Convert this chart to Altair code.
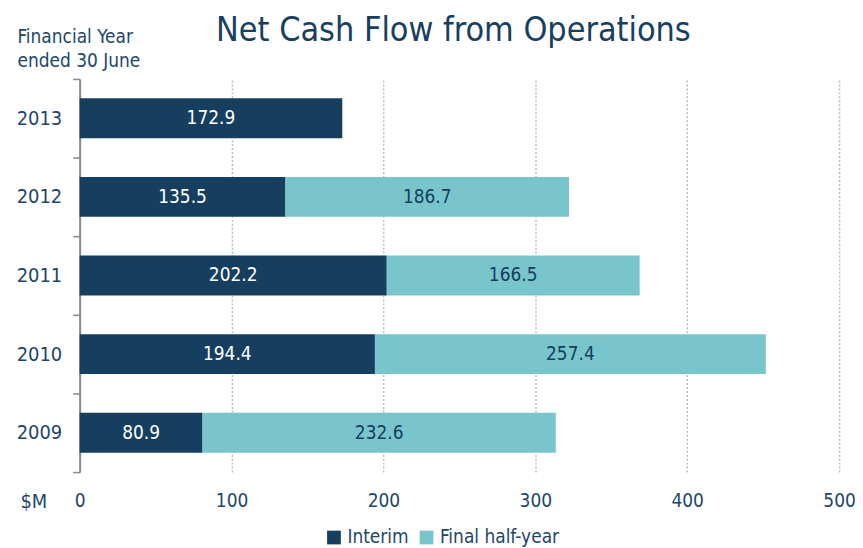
import altair as alt
import pandas as pd

years = ["2013", "2012", "2011", "2010", "2009"]
interim = [172.9, 135.5, 202.2, 194.4, 80.9]
final_half = [None, 186.7, 166.5, 257.4, 232.6]
series_names = ["Interim", "Final half-year"]
x_ticks = [0, 100, 200, 300, 400, 500]

rows = []
for y, a, b in zip(years, interim, final_half):
    rows.append({"year": y, "series": "Interim", "value": a, "ord": 0})
    if b is not None:
        rows.append({"year": y, "series": "Final half-year", "value": b, "ord": 1})
df = pd.DataFrame(rows)

NAVY = "#163e5e"
TEAL = "#78c6cc"
TXT = "#1d4668"
FONT = "DejaVu Sans Condensed, Roboto Condensed, Roboto, sans-serif"

base = alt.Chart(df).transform_stack(
    stack="value", groupby=["year"], as_=["start", "end"],
    sort=[alt.SortField("ord", order="ascending")]
).transform_calculate(mid="(datum.start + datum.end) / 2")

yenc = alt.Y(
    "year:N", sort=years,
    scale=alt.Scale(paddingInner=0, paddingOuter=0),
    axis=alt.Axis(
        title=["Financial Year", "ended 30 June"],
        titleAngle=0, titleAlign="left", titleBaseline="alphabetic",
        titleX=-63, titleY=-37, titleFontSize=19, titleFont=FONT,
        titleFontWeight="normal", titleColor=TXT, titleLineHeight=25,
        labelFontSize=20, labelFont=FONT, labelColor=TXT, labelPadding=11,
        tickBand="extent", tickSize=7, tickColor="#8a8a8a", tickWidth=1.5,
        domainColor="#8a8a8a", domainWidth=2, grid=False,
    ),
)

bars = base.mark_bar(size=40).encode(
    y=yenc,
    x=alt.X(
        "start:Q",
        scale=alt.Scale(domain=[0, 500], nice=False),
        axis=alt.Axis(
            values=x_ticks, title="$M", titleX=-60, titleY=30,
            titleAlign="left", titleBaseline="middle", titleFontSize=20,
            titleFont=FONT, titleFontWeight="normal", titleColor=TXT,
            labelFontSize=19, labelFont=FONT, labelColor=TXT, labelPadding=20,
            labelFlush=False, ticks=False, domain=False, grid=True,
            gridDash=[2, 2], gridColor="#bdbdbd", gridWidth=1.5,
        ),
    ),
    x2="end:Q",
    color=alt.Color(
        "series:N",
        scale=alt.Scale(domain=series_names, range=[NAVY, TEAL]),
        legend=alt.Legend(
            title=None, orient="none", direction="horizontal",
            legendX=246, legendY=451, symbolType="square", symbolSize=190,
            symbolStrokeWidth=0, labelFontSize=19, labelFont=FONT,
            labelColor=TXT, columnPadding=8, labelOffset=4,
        ),
    ),
)

labels = base.mark_text(fontSize=19, font=FONT, baseline="middle").encode(
    y=alt.Y("year:N", sort=years),
    x=alt.X("mid:Q"),
    text=alt.Text("value:Q", format=".1f"),
    color=alt.condition("datum.series == 'Interim'", alt.value("white"), alt.value(NAVY)),
)

chart = alt.layer(bars, labels).properties(
    width=763, height=395,
    title=alt.TitleParams(
        "Net Cash Flow from Operations", fontSize=34, font=FONT,
        fontWeight="normal", color="#17405f", anchor="middle", offset=10,
        dy=31, dx=-6,
    ),
    autosize=alt.AutoSizeParams(type="none"),
    padding={"left": 72, "top": 70, "right": 16, "bottom": 75},
).configure_view(stroke=None)

chart.save("out.html", embed_options={"renderer": "svg", "actions": False})
